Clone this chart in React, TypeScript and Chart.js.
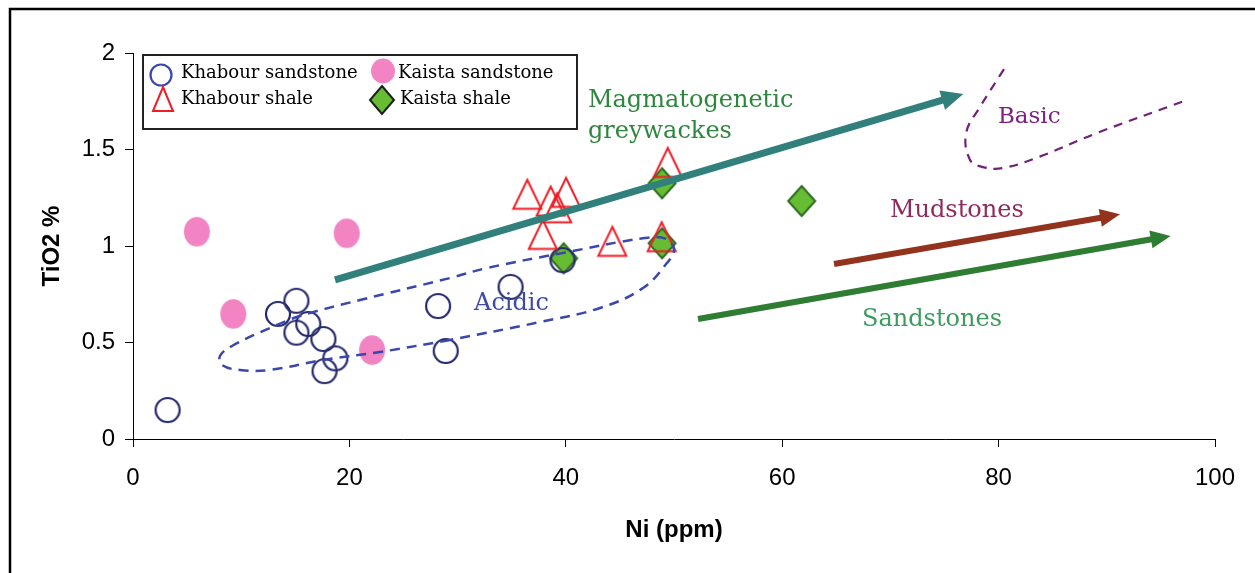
import React, { useEffect, useRef } from 'react';
import { Chart, registerables } from 'chart.js';

Chart.register(...registerables);

// ---- Data (Ni ppm vs TiO2 %) ----
const khabourSandstoneNi = [3.2, 13.4, 15.1, 15.1, 16.2, 17.6, 18.7, 17.7, 28.2, 28.9, 34.9, 39.7];
const khabourSandstoneTiO2 = [0.15, 0.648, 0.716, 0.551, 0.596, 0.518, 0.418, 0.352, 0.689, 0.456, 0.788, 0.927];

const kaistaSandstoneNi = [5.9, 19.75, 9.27, 22.1];
const kaistaSandstoneTiO2 = [1.074, 1.066, 0.648, 0.461];

const khabourShaleNi = [36.44, 38.6, 40.02, 39.2, 37.87, 44.3, 49.42, 48.86];
const khabourShaleTiO2 = [1.268, 1.233, 1.278, 1.198, 1.06, 1.024, 1.433, 1.048];

const kaistaShaleNi = [39.8, 48.9, 48.9, 61.8];
const kaistaShaleTiO2 = [0.936, 1.325, 1.014, 1.233];

// Field outlines (dashed)
const acidicFieldNi = [29.3, 22.83, 17.56, 12.66, 9.89, 8.23, 8.04, 9.15, 12.66, 15.43, 20.98, 29.3, 32.72, 39.74, 47.3, 49.3, 50.0, 49.35, 47.13, 43.16, 37.62, 29.3];
const acidicFieldTiO2 = [0.513, 0.451, 0.409, 0.358, 0.358, 0.383, 0.43, 0.482, 0.575, 0.637, 0.72, 0.834, 0.886, 0.964, 1.041, 1.036, 0.979, 0.912, 0.782, 0.679, 0.606, 0.513];

const basicFieldNi = [80.5, 78.3, 77.0, 77.36, 78.56, 80.4, 83.8, 89.07, 97.4];
const basicFieldTiO2 = [1.916, 1.722, 1.585, 1.446, 1.409, 1.404, 1.463, 1.585, 1.756];

// Trend arrows [x1, y1, x2, y2] in data units
const arrowMagmatogenetic = [18.67, 0.824, 76.74, 1.788];
const arrowMudstones = [64.79, 0.907, 91.22, 1.164];
const arrowSandstones = [52.22, 0.622, 95.9, 1.052];

// Labels and their anchors (data units, left/baseline)
const labelTexts = ['Magmatogenetic', 'greywackes', 'Basic', 'Mudstones', 'Sandstones', 'Acidic'];
const labelNi = [42.05, 42.05, 79.94, 69.96, 67.38, 31.52];
const labelTiO2 = [1.72, 1.56, 1.639, 1.152, 0.585, 0.668];
const labelColors = ['#2f873f', '#2f873f', '#7a2381', '#8e2a5c', '#3d9a60', '#3f4ba8'];

const xTicks = [0, 20, 40, 60, 80, 100];
const yTicks = [0, 0.5, 1, 1.5, 2];

const legendNames = ['Khabour sandstone', 'Kaista sandstone', 'Khabour shale', 'Kaista shale'];

const zip = (xs: number[], ys: number[]) => xs.map((x, i) => ({ x, y: ys[i] }));

function makeCanvas(w: number, h: number, draw: (c: CanvasRenderingContext2D) => void) {
  const c = document.createElement('canvas');
  c.width = w;
  c.height = h;
  const ctx = c.getContext('2d')!;
  draw(ctx);
  return c;
}

function makeMarkers() {
  const circle = makeCanvas(30, 30, (c) => {
    c.strokeStyle = '#262a6c';
    c.lineWidth = 2.2;
    c.beginPath();
    c.arc(15, 15, 12, 0, Math.PI * 2);
    c.stroke();
  });
  const legendCircle = makeCanvas(30, 30, (c) => {
    c.strokeStyle = '#3b47ad';
    c.lineWidth = 2.2;
    c.beginPath();
    c.arc(15, 15, 10.5, 0, Math.PI * 2);
    c.stroke();
  });
  const pink = makeCanvas(30, 34, (c) => {
    c.fillStyle = '#f284c4';
    c.beginPath();
    c.ellipse(15, 17, 13, 14.8, 0, 0, Math.PI * 2);
    c.fill();
  });
  const legendPink = makeCanvas(30, 30, (c) => {
    c.fillStyle = '#f284c4';
    c.beginPath();
    c.ellipse(15, 15, 12, 12.5, 0, 0, Math.PI * 2);
    c.fill();
  });
  const tri = makeCanvas(32, 34, (c) => {
    c.strokeStyle = '#ee1c25';
    c.lineWidth = 2;
    c.lineJoin = 'miter';
    c.beginPath();
    c.moveTo(16, 2.5);
    c.lineTo(30, 31.5);
    c.lineTo(2, 31.5);
    c.closePath();
    c.stroke();
  });
  const legendTri = makeCanvas(28, 30, (c) => {
    c.strokeStyle = '#ee1c25';
    c.lineWidth = 2;
    c.beginPath();
    c.moveTo(14, 3);
    c.lineTo(24, 27);
    c.lineTo(4, 27);
    c.closePath();
    c.stroke();
  });
  const diamond = makeCanvas(32, 34, (c) => {
    c.fillStyle = '#66bd33';
    c.strokeStyle = '#2d6a22';
    c.lineWidth = 2;
    c.beginPath();
    c.moveTo(16, 2);
    c.lineTo(29.5, 17);
    c.lineTo(16, 32);
    c.lineTo(2.5, 17);
    c.closePath();
    c.fill();
    c.stroke();
  });
  const legendDiamond = makeCanvas(30, 34, (c) => {
    c.fillStyle = '#66bd33';
    c.strokeStyle = '#1d1d1d';
    c.lineWidth = 2;
    c.beginPath();
    c.moveTo(15, 3);
    c.lineTo(27, 17);
    c.lineTo(15, 31);
    c.lineTo(3, 17);
    c.closePath();
    c.fill();
    c.stroke();
  });
  return { circle, legendCircle, pink, legendPink, tri, legendTri, diamond, legendDiamond };
}

function drawArrow(ctx: CanvasRenderingContext2D, x1: number, y1: number, x2: number, y2: number, color: string, width: number, headLen: number, headHalf: number) {
  const ang = Math.atan2(y2 - y1, x2 - x1);
  const bx = x2 - headLen * Math.cos(ang);
  const by = y2 - headLen * Math.sin(ang);
  ctx.save();
  ctx.strokeStyle = color;
  ctx.fillStyle = color;
  ctx.lineWidth = width;
  ctx.lineCap = 'butt';
  ctx.beginPath();
  ctx.moveTo(x1, y1);
  ctx.lineTo(bx + Math.cos(ang) * 2, by + Math.sin(ang) * 2);
  ctx.stroke();
  ctx.beginPath();
  ctx.moveTo(x2, y2);
  ctx.lineTo(bx + headHalf * Math.sin(ang), by - headHalf * Math.cos(ang));
  ctx.lineTo(bx - headHalf * Math.sin(ang), by + headHalf * Math.cos(ang));
  ctx.closePath();
  ctx.fill();
  ctx.restore();
}

export default function App() {
  const canvasRef = useRef<HTMLCanvasElement | null>(null);

  useEffect(() => {
    const canvas = canvasRef.current;
    if (!canvas) return;
    const m = makeMarkers();
    const serif = '"DejaVu Serif", serif';

    const overlay = {
      id: 'overlay',
      beforeDraw(chart: any) {
        const ctx = chart.ctx as CanvasRenderingContext2D;
        ctx.save();
        ctx.fillStyle = '#ffffff';
        ctx.fillRect(0, 0, chart.width, chart.height);
        ctx.strokeStyle = '#000';
        ctx.lineWidth = 2.5;
        ctx.beginPath();
        ctx.moveTo(10, chart.height);
        ctx.lineTo(10, 9);
        ctx.lineTo(chart.width, 9);
        ctx.stroke();
        ctx.restore();
      },
      afterDatasetsDraw(chart: any) {
        const ctx = chart.ctx as CanvasRenderingContext2D;
        const xs = chart.scales.x;
        const ys = chart.scales.y;
        const px = (v: number) => xs.getPixelForValue(v);
        const py = (v: number) => ys.getPixelForValue(v);
        const arr = (a: number[], color: string, w: number, hl: number, hh: number) =>
          drawArrow(ctx, px(a[0]), py(a[1]), px(a[2]), py(a[3]), color, w, hl, hh);
        arr(arrowMagmatogenetic, '#31807c', 7, 22, 10);
        arr(arrowMudstones, '#93331e', 6, 20, 9);
        arr(arrowSandstones, '#2e7d32', 6, 20, 9);

        ctx.save();
        ctx.textAlign = 'left';
        ctx.textBaseline = 'alphabetic';
        labelTexts.forEach((t, i) => {
          ctx.font = `${t === 'Basic' ? 23 : 24}px ${serif}`;
          ctx.fillStyle = labelColors[i];
          ctx.fillText(t, px(labelNi[i]), py(labelTiO2[i]));
        });
        ctx.restore();

        // Legend box inside plot area
        const L = chart.chartArea.left;
        const T = chart.chartArea.top;
        ctx.save();
        ctx.fillStyle = '#fff';
        ctx.fillRect(L + 10, T + 2, 434, 74);
        ctx.strokeStyle = '#222';
        ctx.lineWidth = 2;
        ctx.strokeRect(L + 10, T + 2, 434, 74);
        const drawImg = (img: HTMLCanvasElement, cx: number, cy: number) =>
          ctx.drawImage(img, cx - img.width / 2, cy - img.height / 2);
        drawImg(m.legendCircle, L + 28, T + 22);
        drawImg(m.legendPink, L + 250, T + 18);
        drawImg(m.legendTri, L + 30, T + 46);
        drawImg(m.legendDiamond, L + 249, T + 47);
        ctx.font = `18px ${serif}`;
        ctx.fillStyle = '#000';
        ctx.textBaseline = 'alphabetic';
        ctx.fillText(legendNames[0], L + 48, T + 25);
        ctx.fillText(legendNames[1], L + 265, T + 25);
        ctx.fillText(legendNames[2], L + 48, T + 51);
        ctx.fillText(legendNames[3], L + 267, T + 51);
        ctx.restore();
      },
    };

    const tickFont = { family: '"Liberation Sans", Arial, sans-serif', size: 24 };
    const titleFont = { family: '"Liberation Sans", Arial, sans-serif', size: 24, weight: 'bold' as const };

    const chart = new Chart(canvas, {
      type: 'scatter',
      data: {
        datasets: [
          {
            label: 'Acidic field',
            data: zip(acidicFieldNi, acidicFieldTiO2),
            showLine: true,
            tension: 0.4,
            borderColor: '#3a47ad',
            borderWidth: 2.5,
            borderDash: [10, 7],
            pointRadius: 0,
            fill: false,
          },
          {
            label: 'Basic field',
            data: zip(basicFieldNi, basicFieldTiO2),
            showLine: true,
            tension: 0.4,
            borderColor: '#72207a',
            borderWidth: 2.2,
            borderDash: [9, 7],
            pointRadius: 0,
            fill: false,
          },
          {
            label: legendNames[2],
            data: zip(khabourShaleNi, khabourShaleTiO2),
            pointStyle: m.tri as any,
            pointRadius: 12,
          },
          {
            label: legendNames[0],
            data: zip(khabourSandstoneNi, khabourSandstoneTiO2),
            pointStyle: m.circle as any,
            pointRadius: 12,
          },
          {
            label: legendNames[1],
            data: zip(kaistaSandstoneNi, kaistaSandstoneTiO2),
            pointStyle: m.pink as any,
            pointRadius: 12,
          },
          {
            label: legendNames[3],
            data: zip(kaistaShaleNi, kaistaShaleTiO2),
            pointStyle: m.diamond as any,
            pointRadius: 12,
          },
        ],
      },
      options: {
        animation: false,
        responsive: false,
        maintainAspectRatio: false,
        layout: { padding: { left: 0, top: 53, right: 40, bottom: 0 } },
        plugins: {
          legend: { display: false },
          tooltip: { enabled: false },
        },
        scales: {
          x: {
            type: 'linear',
            min: 0,
            max: 100,
            afterFit: (s: any) => { s.height = 134; },
            afterBuildTicks: (s: any) => { s.ticks = xTicks.map((v) => ({ value: v })); },
            ticks: { font: tickFont, color: '#000', padding: 17, maxRotation: 0, callback: (v: any) => String(v) },
            grid: { drawOnChartArea: false, drawTicks: true, tickLength: 8, color: '#000' },
            border: { display: true, color: '#000', width: 1 },
            title: { display: true, text: 'Ni (ppm)', font: titleFont, color: '#000', padding: { top: 0, bottom: 28 } },
          },
          y: {
            type: 'linear',
            min: 0,
            max: 2,
            afterFit: (s: any) => { s.width = 133; },
            afterBuildTicks: (s: any) => { s.ticks = yTicks.map((v) => ({ value: v })); },
            ticks: { font: tickFont, color: '#000', padding: 10, callback: (v: any) => String(v) },
            grid: { drawOnChartArea: false, drawTicks: true, tickLength: 8, color: '#000' },
            border: { display: true, color: '#000', width: 1 },
            title: { display: true, text: 'TiO2 %', font: titleFont, color: '#000', padding: { top: 38, bottom: 0 } },
          },
        },
      },
      plugins: [overlay],
    });

    return () => chart.destroy();
  }, []);

  return (
    <div style={{ position: 'absolute', left: 0, top: 0, width: 1255, height: 573, background: '#fff' }}>
      <canvas ref={canvasRef} width={1255} height={573} style={{ display: 'block' }} />
    </div>
  );
}
